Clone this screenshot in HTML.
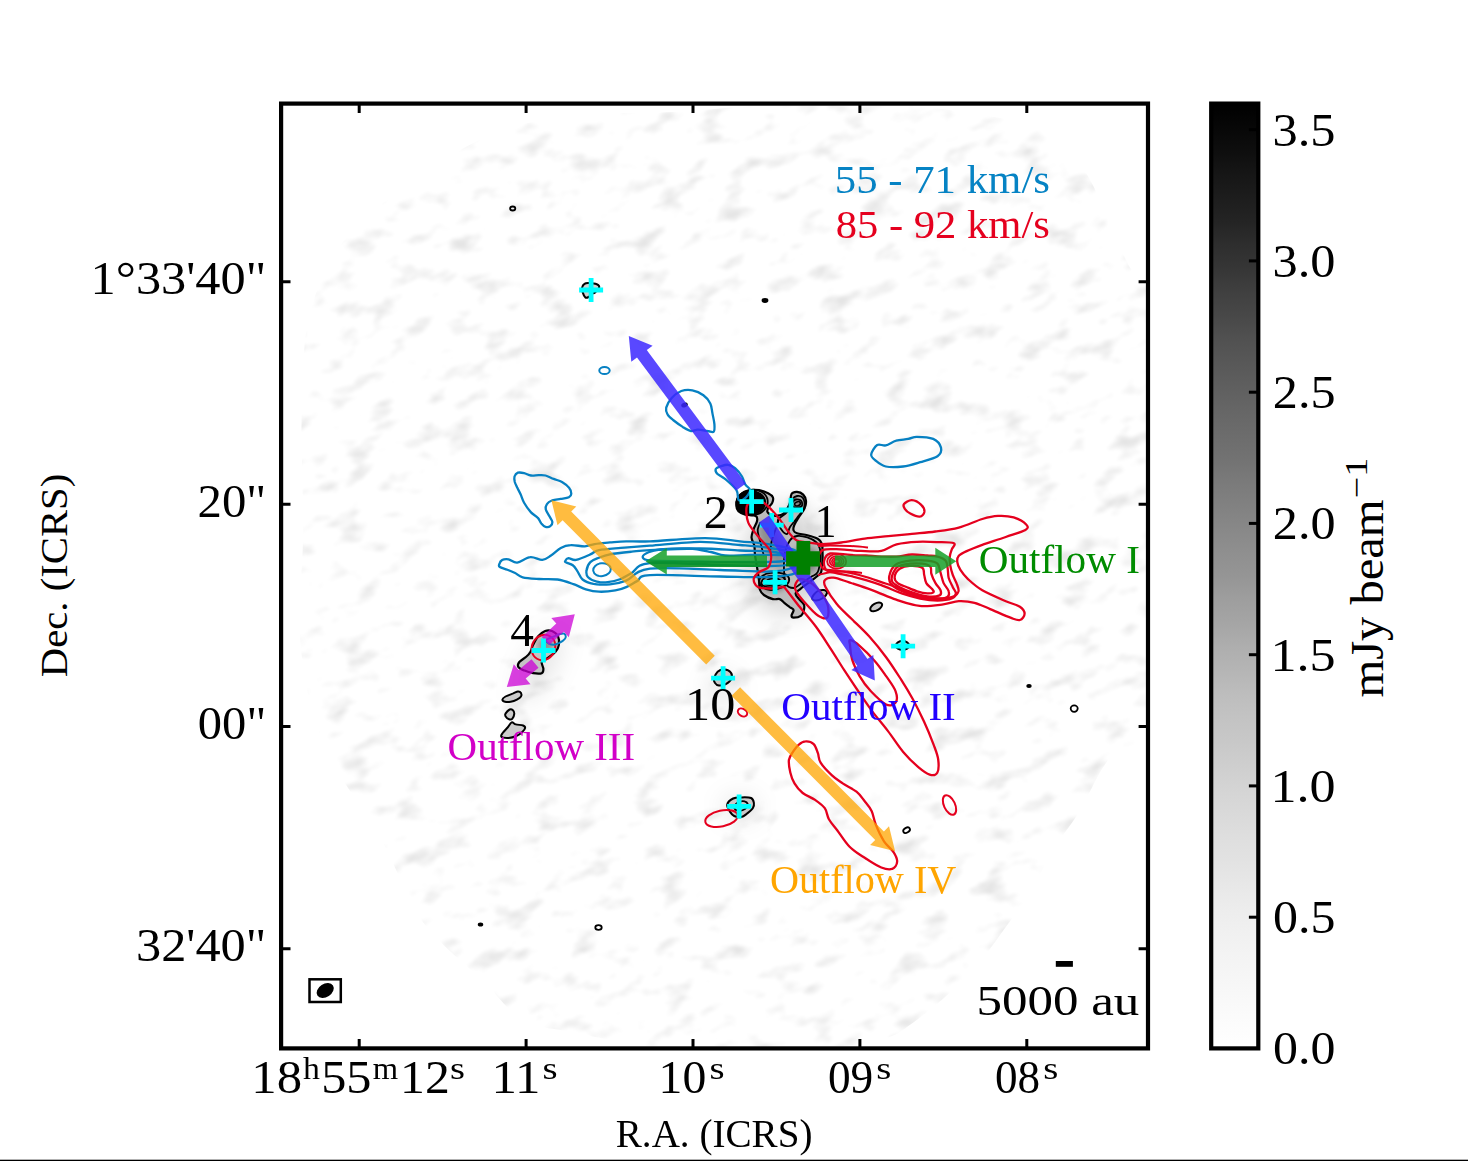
<!DOCTYPE html>
<html><head><meta charset="utf-8"><style>
html,body{margin:0;padding:0;background:#fff;}
svg{display:block;}
text{font-family:"Liberation Serif", serif;}
</style></head><body>
<svg width="1468" height="1161" viewBox="0 0 1468 1161">
<defs><linearGradient id="cb" x1="0" y1="0" x2="0" y2="1"><stop offset="0.000" stop-color="rgb(0,0,0)"/><stop offset="0.025" stop-color="rgb(7,7,7)"/><stop offset="0.050" stop-color="rgb(14,14,14)"/><stop offset="0.075" stop-color="rgb(22,22,22)"/><stop offset="0.100" stop-color="rgb(29,29,29)"/><stop offset="0.125" stop-color="rgb(36,36,36)"/><stop offset="0.150" stop-color="rgb(46,46,46)"/><stop offset="0.175" stop-color="rgb(54,54,54)"/><stop offset="0.200" stop-color="rgb(64,64,64)"/><stop offset="0.225" stop-color="rgb(72,72,72)"/><stop offset="0.250" stop-color="rgb(81,81,81)"/><stop offset="0.275" stop-color="rgb(88,88,88)"/><stop offset="0.300" stop-color="rgb(95,95,95)"/><stop offset="0.325" stop-color="rgb(102,102,102)"/><stop offset="0.350" stop-color="rgb(108,108,108)"/><stop offset="0.375" stop-color="rgb(114,114,114)"/><stop offset="0.400" stop-color="rgb(122,122,122)"/><stop offset="0.425" stop-color="rgb(129,129,129)"/><stop offset="0.450" stop-color="rgb(136,136,136)"/><stop offset="0.475" stop-color="rgb(143,143,143)"/><stop offset="0.500" stop-color="rgb(149,149,149)"/><stop offset="0.525" stop-color="rgb(158,158,158)"/><stop offset="0.550" stop-color="rgb(165,165,165)"/><stop offset="0.575" stop-color="rgb(174,174,174)"/><stop offset="0.600" stop-color="rgb(181,181,181)"/><stop offset="0.625" stop-color="rgb(189,189,189)"/><stop offset="0.650" stop-color="rgb(195,195,195)"/><stop offset="0.675" stop-color="rgb(200,200,200)"/><stop offset="0.700" stop-color="rgb(206,206,206)"/><stop offset="0.725" stop-color="rgb(212,212,212)"/><stop offset="0.750" stop-color="rgb(217,217,217)"/><stop offset="0.775" stop-color="rgb(222,222,222)"/><stop offset="0.800" stop-color="rgb(226,226,226)"/><stop offset="0.825" stop-color="rgb(231,231,231)"/><stop offset="0.850" stop-color="rgb(236,236,236)"/><stop offset="0.875" stop-color="rgb(240,240,240)"/><stop offset="0.900" stop-color="rgb(243,243,243)"/><stop offset="0.925" stop-color="rgb(246,246,246)"/><stop offset="0.950" stop-color="rgb(249,249,249)"/><stop offset="0.975" stop-color="rgb(252,252,252)"/><stop offset="1.000" stop-color="rgb(255,255,255)"/></linearGradient></defs>
<rect x="0" y="0" width="1468" height="1161" fill="#fff"/>
<rect x="0" y="1159.7" width="1468" height="1.3" fill="#000"/>
<defs><clipPath id="rg"><path d="M673.0,112.0 C711.3,110.0 753.8,104.3 800.0,104.0 C846.2,103.7 906.0,103.2 950.0,110.0 C994.0,116.8 1034.5,119.7 1064.0,145.0 C1093.5,170.3 1111.8,231.2 1127.0,262.0 C1142.2,292.8 1150.3,257.0 1155.0,330.0 C1159.7,403.0 1163.2,627.8 1155.0,700.0 C1146.8,772.2 1118.3,744.8 1106.0,763.0 C1093.7,781.2 1089.5,794.9 1081.0,809.0 C1072.5,823.1 1063.6,833.4 1055.0,847.5 C1046.4,861.6 1038.1,880.0 1029.6,893.7 C1021.1,907.4 1013.4,916.8 1004.0,929.6 C994.6,942.4 983.7,958.7 973.0,970.7 C962.3,982.7 949.8,993.0 940.0,1001.5 C930.2,1010.0 922.6,1016.0 914.0,1022.0 C905.4,1028.0 900.2,1033.4 888.5,1037.4 C876.8,1041.4 866.6,1043.9 844.0,1046.0 C821.4,1048.1 783.3,1049.7 753.0,1050.0 C722.7,1050.3 692.3,1051.0 662.0,1048.0 C631.7,1045.0 594.2,1036.7 571.0,1032.0 C547.8,1027.3 537.7,1028.5 523.0,1020.0 C508.3,1011.5 499.8,997.5 483.0,981.0 C466.2,964.5 438.8,944.3 422.0,921.0 C405.2,897.7 398.7,871.0 382.0,841.0 C365.3,811.0 335.7,774.5 322.0,741.0 C308.3,707.5 303.2,674.2 300.0,640.0 C296.8,605.8 302.7,576.2 303.0,536.0 C303.3,495.8 300.3,438.0 302.0,399.0 C303.7,360.0 303.3,331.3 313.0,302.0 C322.7,272.7 332.7,249.8 360.0,223.0 C387.3,196.2 442.0,158.8 477.0,141.0 C512.0,123.2 537.3,120.8 570.0,116.0 C602.7,111.2 634.7,114.0 673.0,112.0Z"/></clipPath><clipPath id="fr"><rect x="283" y="105.7" width="863" height="940.7"/></clipPath><filter id="nz" x="0" y="0" width="100%" height="100%" filterUnits="userSpaceOnUse"><feTurbulence type="fractalNoise" baseFrequency="0.03 0.058" numOctaves="3" seed="7" result="t"/><feColorMatrix type="matrix" values="0 0 0 0 0  0 0 0 0 0  0 0 0 0 0  3.3 0 0 0 -1.8"/><feGaussianBlur stdDeviation="1.8"/></filter><filter id="bl6"><feGaussianBlur stdDeviation="6"/></filter><filter id="bl12"><feGaussianBlur stdDeviation="12"/></filter><filter id="bl3"><feGaussianBlur stdDeviation="3"/></filter></defs>
<g clip-path="url(#fr)"><g clip-path="url(#rg)">
<g transform="rotate(-18 720 575)"><rect x="150" y="0" width="1200" height="1200" filter="url(#nz)" fill="#000" opacity="0.10"/></g>
<g filter="url(#bl12)" fill="#000"><ellipse cx="785" cy="560" rx="42" ry="55" opacity="0.16"/><ellipse cx="540" cy="665" rx="14" ry="40" transform="rotate(28 540 665)" opacity="0.10"/><ellipse cx="722" cy="690" rx="14" ry="18" opacity="0.10"/><ellipse cx="740" cy="808" rx="18" ry="12" opacity="0.10"/></g>
</g></g>
<path d="M736.4,505.7 C736.5,503.2 737.0,498.5 739.1,496.0 C741.2,493.5 745.5,491.5 748.8,490.5 C752.1,489.5 755.9,489.7 759.1,490.2 C762.3,490.7 765.8,492.1 768.1,493.3 C770.4,494.5 772.2,495.8 772.9,497.4 C773.6,499.0 772.9,501.3 772.2,502.9 C771.5,504.5 769.6,505.6 768.8,507.1 C768.0,508.6 766.8,510.5 767.4,511.9 C768.0,513.3 770.5,514.7 772.2,515.3 C773.9,515.9 775.9,515.9 777.7,515.7 C779.5,515.5 781.6,515.1 783.2,513.9 C784.8,512.7 786.2,510.3 787.4,508.4 C788.5,506.4 789.4,504.6 790.1,502.2 C790.8,499.8 790.4,495.7 791.5,494.0 C792.6,492.3 795.0,491.8 797.0,491.9 C799.0,492.0 801.7,493.1 803.2,494.6 C804.7,496.1 805.8,498.6 806.0,500.9 C806.2,503.2 805.8,505.8 804.6,508.4 C803.5,511.0 800.8,513.9 799.1,516.7 C797.4,519.5 795.2,522.7 794.3,525.0 C793.4,527.3 793.1,529.1 793.6,530.5 C794.1,531.9 794.7,532.4 797.0,533.2 C799.3,534.0 803.9,534.4 807.4,535.3 C810.9,536.2 815.3,537.4 817.7,538.8 C820.1,540.2 821.0,541.6 821.8,543.6 C822.6,545.6 822.4,547.8 822.5,550.5 C822.6,553.2 822.7,556.4 822.5,560.0 C822.3,563.6 821.9,569.6 821.1,572.2 C820.3,574.8 819.4,574.2 817.7,575.7 C816.0,577.2 813.7,579.0 810.8,581.2 C807.9,583.4 803.0,586.7 800.5,588.8 C798.0,590.9 795.8,591.9 795.6,593.6 C795.4,595.3 797.7,597.3 799.1,599.1 C800.5,600.9 803.1,602.8 803.9,604.6 C804.7,606.4 804.3,608.3 803.9,610.1 C803.5,611.9 802.9,614.3 801.2,615.6 C799.5,616.9 795.2,617.7 793.6,617.7 C792.0,617.7 791.5,616.9 791.5,615.6 C791.5,614.3 793.8,611.5 793.6,610.1 C793.4,608.7 791.6,608.5 790.1,607.4 C788.6,606.2 786.3,604.6 784.6,603.2 C782.9,601.8 781.8,599.8 779.8,599.1 C777.8,598.4 775.5,599.8 772.9,599.1 C770.2,598.4 766.1,596.6 763.9,595.0 C761.7,593.4 760.6,591.8 759.8,589.5 C759.0,587.2 759.5,584.5 759.1,581.2 C758.7,578.0 758.2,574.4 757.5,570.0 C756.8,565.6 755.5,559.1 755.0,555.0 C754.5,550.9 754.9,548.5 754.3,545.6 C753.7,542.7 751.6,540.1 751.5,537.4 C751.4,534.6 752.7,531.9 753.6,529.1 C754.5,526.3 756.8,523.0 757.1,520.8 C757.5,518.6 757.7,517.0 755.7,516.0 C753.7,515.0 748.2,515.4 745.3,514.6 C742.4,513.8 739.9,512.7 738.4,511.2 C736.9,509.7 736.3,508.2 736.4,505.7Z" fill="#bdbdbd" opacity="1.0" stroke="none"/>
<g filter="url(#bl3)" fill="#000"><ellipse cx="797" cy="504" rx="7" ry="6" opacity="0.35"/><ellipse cx="773" cy="583" rx="13" ry="8" opacity="0.4"/><ellipse cx="772" cy="545" rx="9" ry="25" transform="rotate(-25 772 545)" opacity="0.25"/><ellipse cx="805" cy="560" rx="14" ry="14" opacity="0.3"/></g>
<path d="M736.4,505.7 C736.5,503.2 737.0,498.5 739.1,496.0 C741.2,493.5 745.5,491.5 748.8,490.5 C752.1,489.5 755.9,489.7 759.1,490.2 C762.3,490.7 765.8,492.1 768.1,493.3 C770.4,494.5 772.2,495.8 772.9,497.4 C773.6,499.0 772.9,501.3 772.2,502.9 C771.5,504.5 769.6,505.6 768.8,507.1 C768.0,508.6 766.8,510.5 767.4,511.9 C768.0,513.3 770.5,514.7 772.2,515.3 C773.9,515.9 775.9,515.9 777.7,515.7 C779.5,515.5 781.6,515.1 783.2,513.9 C784.8,512.7 786.2,510.3 787.4,508.4 C788.5,506.4 789.4,504.6 790.1,502.2 C790.8,499.8 790.4,495.7 791.5,494.0 C792.6,492.3 795.0,491.8 797.0,491.9 C799.0,492.0 801.7,493.1 803.2,494.6 C804.7,496.1 805.8,498.6 806.0,500.9 C806.2,503.2 805.8,505.8 804.6,508.4 C803.5,511.0 800.8,513.9 799.1,516.7 C797.4,519.5 795.2,522.7 794.3,525.0 C793.4,527.3 793.1,529.1 793.6,530.5 C794.1,531.9 794.7,532.4 797.0,533.2 C799.3,534.0 803.9,534.4 807.4,535.3 C810.9,536.2 815.3,537.4 817.7,538.8 C820.1,540.2 821.0,541.6 821.8,543.6 C822.6,545.6 822.4,547.8 822.5,550.5 C822.6,553.2 822.7,556.4 822.5,560.0 C822.3,563.6 821.9,569.6 821.1,572.2 C820.3,574.8 819.4,574.2 817.7,575.7 C816.0,577.2 813.7,579.0 810.8,581.2 C807.9,583.4 803.0,586.7 800.5,588.8 C798.0,590.9 795.8,591.9 795.6,593.6 C795.4,595.3 797.7,597.3 799.1,599.1 C800.5,600.9 803.1,602.8 803.9,604.6 C804.7,606.4 804.3,608.3 803.9,610.1 C803.5,611.9 802.9,614.3 801.2,615.6 C799.5,616.9 795.2,617.7 793.6,617.7 C792.0,617.7 791.5,616.9 791.5,615.6 C791.5,614.3 793.8,611.5 793.6,610.1 C793.4,608.7 791.6,608.5 790.1,607.4 C788.6,606.2 786.3,604.6 784.6,603.2 C782.9,601.8 781.8,599.8 779.8,599.1 C777.8,598.4 775.5,599.8 772.9,599.1 C770.2,598.4 766.1,596.6 763.9,595.0 C761.7,593.4 760.6,591.8 759.8,589.5 C759.0,587.2 759.5,584.5 759.1,581.2 C758.7,578.0 758.2,574.4 757.5,570.0 C756.8,565.6 755.5,559.1 755.0,555.0 C754.5,550.9 754.9,548.5 754.3,545.6 C753.7,542.7 751.6,540.1 751.5,537.4 C751.4,534.6 752.7,531.9 753.6,529.1 C754.5,526.3 756.8,523.0 757.1,520.8 C757.5,518.6 757.7,517.0 755.7,516.0 C753.7,515.0 748.2,515.4 745.3,514.6 C742.4,513.8 739.9,512.7 738.4,511.2 C736.9,509.7 736.3,508.2 736.4,505.7Z" fill="none" stroke="#000" stroke-width="2.2" stroke-linejoin="round" />
<ellipse cx="750.9" cy="502.9" rx="14.3" ry="11.5" transform="rotate(-5 750.9 502.9)" fill="#000" stroke="#000" stroke-width="2.0"/>
<ellipse cx="752.0" cy="502.5" rx="15.8" ry="12.8" transform="rotate(-8 752.0 502.5)" fill="none" stroke="#000" stroke-width="1.8"/>
<path d="M792.2,502.9 C792.7,501.8 794.1,499.8 795.6,499.5 C797.1,499.2 800.2,499.9 801.2,500.9 C802.2,501.9 802.6,504.6 801.9,505.7 C801.2,506.8 798.5,507.6 797.0,507.7 C795.5,507.8 793.7,507.2 792.9,506.4 C792.1,505.6 791.8,504.0 792.2,502.9Z" fill="none" stroke="#000" stroke-width="1.8" stroke-linejoin="round" />
<ellipse cx="797.5" cy="503.8" rx="3.0" ry="2.0" transform="rotate(-20 797.5 503.8)" fill="none" stroke="#000" stroke-width="1.6"/>
<path d="M787.0,512.0 C789.3,508.7 790.3,502.7 792.0,500.0 C793.7,497.3 795.2,496.3 797.0,496.0 C798.8,495.7 801.8,496.0 803.0,498.0 C804.2,500.0 805.0,504.7 804.0,508.0 C803.0,511.3 799.3,514.8 797.0,518.0 C794.7,521.2 791.7,524.3 790.0,527.0 C788.3,529.7 788.5,533.7 787.0,534.0 C785.5,534.3 782.5,531.3 781.0,529.0 C779.5,526.7 777.0,522.8 778.0,520.0 C779.0,517.2 784.7,515.3 787.0,512.0Z" fill="none" stroke="#000" stroke-width="1.8" stroke-linejoin="round" />
<path d="M760.5,522.2 C760.0,523.5 757.9,527.3 757.7,529.8 C757.5,532.3 758.5,534.8 759.1,537.4 C759.7,540.0 760.4,542.5 761.2,545.6 C762.0,548.7 763.5,554.3 764.0,556.0" fill="none" stroke="#000" stroke-width="1.8" stroke-linejoin="round" />
<path d="M779.1,517.4 C778.6,519.2 777.2,524.2 776.0,528.0 C774.8,531.8 773.0,536.0 772.0,540.0 C771.0,544.0 770.3,550.0 770.0,552.0" fill="none" stroke="#000" stroke-width="1.8" stroke-linejoin="round" />
<path d="M790.1,540.1 C792.1,537.4 794.1,536.5 797.0,536.0 C799.9,535.5 804.2,536.4 807.4,537.4 C810.6,538.4 814.2,540.4 816.3,542.2 C818.4,544.0 819.1,545.8 819.8,548.4 C820.5,551.0 820.9,554.1 820.5,558.1 C820.1,562.1 819.3,569.1 817.7,572.2 C816.1,575.4 813.7,575.0 810.8,577.0 C807.9,579.0 803.4,582.2 800.5,584.0 C797.6,585.8 796.0,588.0 793.6,588.0 C791.2,588.0 787.6,587.0 786.0,584.0 C784.4,581.0 784.2,575.3 784.0,570.0 C783.8,564.7 784.0,557.0 785.0,552.0 C786.0,547.0 788.1,542.8 790.1,540.1Z" fill="none" stroke="#000" stroke-width="1.8" stroke-linejoin="round" />
<path d="M759.1,581.2 C759.1,579.2 760.7,577.1 762.6,575.7 C764.5,574.3 767.4,573.2 770.8,572.9 C774.2,572.5 780.2,572.8 783.2,573.6 C786.2,574.4 788.1,576.0 788.8,577.7 C789.5,579.4 788.9,582.2 787.4,583.9 C785.9,585.6 782.6,587.1 779.8,588.1 C777.0,589.1 773.7,590.2 770.8,590.1 C767.9,590.0 764.5,588.9 762.6,587.4 C760.7,585.9 759.1,583.2 759.1,581.2Z" fill="none" stroke="#000" stroke-width="1.8" stroke-linejoin="round" />
<path d="M761.2,582.6 C761.6,581.1 763.9,578.1 766.0,577.0 C768.1,575.9 770.8,575.7 773.6,575.7 C776.4,575.7 780.8,576.1 782.6,577.0 C784.4,577.9 785.2,579.8 784.6,581.2 C784.0,582.6 781.4,584.3 779.1,585.3 C776.8,586.3 773.3,587.3 770.8,587.4 C768.3,587.5 765.5,586.8 763.9,586.0 C762.3,585.2 760.9,584.1 761.2,582.6Z" fill="none" stroke="#000" stroke-width="1.6" stroke-linejoin="round" />
<path d="M764.6,583.3 C764.6,582.3 767.5,579.9 769.5,579.1 C771.5,578.3 774.4,578.0 776.4,578.4 C778.4,578.8 781.2,580.3 781.2,581.2 C781.2,582.1 778.4,583.2 776.4,583.9 C774.4,584.6 771.5,585.4 769.5,585.3 C767.5,585.2 764.6,584.3 764.6,583.3Z" fill="none" stroke="#000" stroke-width="1.6" stroke-linejoin="round" />
<path d="M812.0,598.0 C812.2,596.5 815.0,592.8 817.0,591.5 C819.0,590.2 822.3,589.8 824.0,590.0 C825.7,590.2 827.2,591.7 827.0,593.0 C826.8,594.3 824.8,596.8 823.0,598.0 C821.2,599.2 817.8,600.5 816.0,600.5 C814.2,600.5 811.8,599.5 812.0,598.0Z" fill="#bbbbbb" opacity="1.0" stroke="none"/>
<path d="M812.0,598.0 C812.2,596.5 815.0,592.8 817.0,591.5 C819.0,590.2 822.3,589.8 824.0,590.0 C825.7,590.2 827.2,591.7 827.0,593.0 C826.8,594.3 824.8,596.8 823.0,598.0 C821.2,599.2 817.8,600.5 816.0,600.5 C814.2,600.5 811.8,599.5 812.0,598.0Z" fill="none" stroke="#000" stroke-width="2" stroke-linejoin="round" />
<path d="M533.1,644.8 C534.4,642.2 536.2,638.5 538.2,636.2 C540.2,633.9 542.8,631.9 545.1,631.0 C547.4,630.1 549.9,630.1 552.0,631.0 C554.1,631.9 556.9,633.9 558.0,636.2 C559.1,638.5 559.3,642.2 558.9,644.8 C558.5,647.4 557.5,649.4 555.5,651.7 C553.5,654.0 549.1,656.9 546.8,658.6 C544.5,660.3 542.3,660.3 541.7,662.0 C541.1,663.7 543.4,667.0 543.4,668.9 C543.4,670.8 543.4,672.5 541.7,673.2 C540.0,673.9 536.0,673.6 533.1,673.2 C530.2,672.8 527.0,671.6 524.5,670.6 C522.0,669.6 519.3,668.6 518.4,667.2 C517.5,665.8 518.0,663.7 519.3,662.0 C520.6,660.3 524.3,658.5 526.2,656.8 C528.1,655.1 529.4,653.7 530.5,651.7 C531.6,649.7 531.8,647.4 533.1,644.8Z" fill="#c4c4c4" opacity="1.0" stroke="none"/>
<g filter="url(#bl3)" fill="#000"><ellipse cx="546" cy="645" rx="8" ry="6" opacity="0.3"/></g>
<path d="M533.1,644.8 C534.4,642.2 536.2,638.5 538.2,636.2 C540.2,633.9 542.8,631.9 545.1,631.0 C547.4,630.1 549.9,630.1 552.0,631.0 C554.1,631.9 556.9,633.9 558.0,636.2 C559.1,638.5 559.3,642.2 558.9,644.8 C558.5,647.4 557.5,649.4 555.5,651.7 C553.5,654.0 549.1,656.9 546.8,658.6 C544.5,660.3 542.3,660.3 541.7,662.0 C541.1,663.7 543.4,667.0 543.4,668.9 C543.4,670.8 543.4,672.5 541.7,673.2 C540.0,673.9 536.0,673.6 533.1,673.2 C530.2,672.8 527.0,671.6 524.5,670.6 C522.0,669.6 519.3,668.6 518.4,667.2 C517.5,665.8 518.0,663.7 519.3,662.0 C520.6,660.3 524.3,658.5 526.2,656.8 C528.1,655.1 529.4,653.7 530.5,651.7 C531.6,649.7 531.8,647.4 533.1,644.8Z" fill="none" stroke="#000" stroke-width="2.2" stroke-linejoin="round" />
<path d="M502.4,699.6 C502.5,698.7 503.7,697.5 505.5,696.5 C507.3,695.5 511.2,694.2 513.3,693.4 C515.4,692.5 516.6,691.5 517.9,691.4 C519.2,691.3 520.5,692.0 521.0,692.9 C521.5,693.8 521.7,695.4 521.0,696.5 C520.3,697.6 518.6,698.7 516.9,699.6 C515.2,700.5 512.7,701.4 510.7,701.7 C508.7,702.1 506.4,702.1 505.0,701.7 C503.6,701.4 502.3,700.5 502.4,699.6Z" fill="#cccccc" opacity="1.0" stroke="none"/>
<path d="M502.4,699.6 C502.5,698.7 503.7,697.5 505.5,696.5 C507.3,695.5 511.2,694.2 513.3,693.4 C515.4,692.5 516.6,691.5 517.9,691.4 C519.2,691.3 520.5,692.0 521.0,692.9 C521.5,693.8 521.7,695.4 521.0,696.5 C520.3,697.6 518.6,698.7 516.9,699.6 C515.2,700.5 512.7,701.4 510.7,701.7 C508.7,702.1 506.4,702.1 505.0,701.7 C503.6,701.4 502.3,700.5 502.4,699.6Z" fill="none" stroke="#000" stroke-width="2" stroke-linejoin="round" />
<path d="M505.5,713.6 C506.2,712.5 508.4,710.1 509.6,709.5 C510.8,708.9 511.9,709.3 512.7,710.0 C513.5,710.7 514.4,712.1 514.3,713.6 C514.2,715.1 513.1,717.8 512.2,718.8 C511.3,719.8 510.2,719.7 509.1,719.3 C508.0,718.9 506.1,717.2 505.5,716.2 C504.9,715.2 504.8,714.7 505.5,713.6Z" fill="#cccccc" opacity="1.0" stroke="none"/>
<path d="M505.5,713.6 C506.2,712.5 508.4,710.1 509.6,709.5 C510.8,708.9 511.9,709.3 512.7,710.0 C513.5,710.7 514.4,712.1 514.3,713.6 C514.2,715.1 513.1,717.8 512.2,718.8 C511.3,719.8 510.2,719.7 509.1,719.3 C508.0,718.9 506.1,717.2 505.5,716.2 C504.9,715.2 504.8,714.7 505.5,713.6Z" fill="none" stroke="#000" stroke-width="2" stroke-linejoin="round" />
<path d="M511.7,722.4 C513.1,721.9 513.9,723.9 515.8,724.4 C517.7,724.9 521.5,724.9 523.1,725.5 C524.7,726.1 525.3,727.0 525.1,728.1 C524.9,729.2 523.5,730.8 522.0,732.2 C520.5,733.6 518.0,735.3 515.8,736.3 C513.6,737.2 511.0,737.8 508.6,737.9 C506.2,738.0 502.3,737.7 501.4,736.8 C500.4,735.9 501.9,734.2 502.9,732.7 C503.9,731.2 506.1,729.2 507.6,727.5 C509.1,725.8 510.3,722.9 511.7,722.4Z" fill="#cccccc" opacity="1.0" stroke="none"/>
<path d="M511.7,722.4 C513.1,721.9 513.9,723.9 515.8,724.4 C517.7,724.9 521.5,724.9 523.1,725.5 C524.7,726.1 525.3,727.0 525.1,728.1 C524.9,729.2 523.5,730.8 522.0,732.2 C520.5,733.6 518.0,735.3 515.8,736.3 C513.6,737.2 511.0,737.8 508.6,737.9 C506.2,738.0 502.3,737.7 501.4,736.8 C500.4,735.9 501.9,734.2 502.9,732.7 C503.9,731.2 506.1,729.2 507.6,727.5 C509.1,725.8 510.3,722.9 511.7,722.4Z" fill="none" stroke="#000" stroke-width="2" stroke-linejoin="round" />
<path d="M714.1,678.6 C714.6,676.8 715.9,673.2 717.6,671.7 C719.3,670.2 722.3,669.5 724.5,669.6 C726.7,669.7 729.6,670.9 730.7,672.4 C731.9,673.9 732.2,676.6 731.4,678.6 C730.6,680.6 727.9,683.0 725.8,684.1 C723.7,685.2 720.7,685.7 718.9,685.5 C717.1,685.3 715.6,683.9 714.8,682.7 C714.0,681.6 713.6,680.4 714.1,678.6Z" fill="#c8c8c8" opacity="1.0" stroke="none"/>
<path d="M714.1,678.6 C714.6,676.8 715.9,673.2 717.6,671.7 C719.3,670.2 722.3,669.5 724.5,669.6 C726.7,669.7 729.6,670.9 730.7,672.4 C731.9,673.9 732.2,676.6 731.4,678.6 C730.6,680.6 727.9,683.0 725.8,684.1 C723.7,685.2 720.7,685.7 718.9,685.5 C717.1,685.3 715.6,683.9 714.8,682.7 C714.0,681.6 713.6,680.4 714.1,678.6Z" fill="none" stroke="#000" stroke-width="2" stroke-linejoin="round" />
<path d="M727.2,804.5 C727.7,802.3 730.8,799.7 733.1,798.5 C735.5,797.3 738.3,797.5 741.3,797.4 C744.3,797.3 749.0,797.1 751.1,798.0 C753.2,798.9 753.6,801.2 753.9,802.9 C754.2,804.6 754.0,806.5 752.8,808.3 C751.6,810.1 748.7,812.3 746.8,813.8 C744.9,815.3 743.4,816.7 741.3,817.1 C739.2,817.5 736.1,816.9 734.2,816.0 C732.3,815.1 731.1,813.5 729.9,811.6 C728.7,809.7 726.7,806.7 727.2,804.5Z" fill="#c8c8c8" opacity="1.0" stroke="none"/>
<path d="M727.2,804.5 C727.7,802.3 730.8,799.7 733.1,798.5 C735.5,797.3 738.3,797.5 741.3,797.4 C744.3,797.3 749.0,797.1 751.1,798.0 C753.2,798.9 753.6,801.2 753.9,802.9 C754.2,804.6 754.0,806.5 752.8,808.3 C751.6,810.1 748.7,812.3 746.8,813.8 C744.9,815.3 743.4,816.7 741.3,817.1 C739.2,817.5 736.1,816.9 734.2,816.0 C732.3,815.1 731.1,813.5 729.9,811.6 C728.7,809.7 726.7,806.7 727.2,804.5Z" fill="none" stroke="#000" stroke-width="2" stroke-linejoin="round" />
<ellipse cx="741.0" cy="806.0" rx="7.0" ry="4.5" transform="rotate(-20 741.0 806.0)" fill="none" stroke="#000" stroke-width="1.8"/>
<path d="M582.1,287.6 C582.4,286.1 583.4,284.6 584.5,283.9 C585.6,283.1 586.6,283.0 588.6,283.1 C590.6,283.2 595.0,283.6 596.8,284.3 C598.6,285.0 599.5,285.8 599.2,287.2 C598.9,288.6 596.3,291.4 595.1,292.5 C593.9,293.6 593.0,292.9 591.9,293.7 C590.8,294.4 589.7,296.4 588.6,297.0 C587.5,297.6 586.2,298.1 585.3,297.4 C584.3,296.7 583.4,294.5 582.9,292.9 C582.4,291.3 581.8,289.1 582.1,287.6Z" fill="#d0d0d0" opacity="1.0" stroke="none"/>
<path d="M582.1,287.6 C582.4,286.1 583.4,284.6 584.5,283.9 C585.6,283.1 586.6,283.0 588.6,283.1 C590.6,283.2 595.0,283.6 596.8,284.3 C598.6,285.0 599.5,285.8 599.2,287.2 C598.9,288.6 596.3,291.4 595.1,292.5 C593.9,293.6 593.0,292.9 591.9,293.7 C590.8,294.4 589.7,296.4 588.6,297.0 C587.5,297.6 586.2,298.1 585.3,297.4 C584.3,296.7 583.4,294.5 582.9,292.9 C582.4,291.3 581.8,289.1 582.1,287.6Z" fill="none" stroke="#000" stroke-width="2" stroke-linejoin="round" />
<ellipse cx="902.5" cy="645.5" rx="6.5" ry="4.5" transform="rotate(0 902.5 645.5)" fill="#d0d0d0" stroke="#000" stroke-width="2"/>
<ellipse cx="876.2" cy="606.9" rx="6.5" ry="3.5" transform="rotate(-30 876.2 606.9)" fill="#cccccc" stroke="#000" stroke-width="2"/>
<ellipse cx="512.7" cy="208.5" rx="2.6" ry="2.0" transform="rotate(0 512.7 208.5)" fill="none" stroke="#000" stroke-width="1.8"/>
<ellipse cx="765.0" cy="300.5" rx="2.5" ry="1.5" transform="rotate(0 765.0 300.5)" fill="#000" stroke="#000" stroke-width="1.8"/>
<ellipse cx="1029.0" cy="686.0" rx="2.0" ry="1.2" transform="rotate(0 1029.0 686.0)" fill="#000" stroke="#000" stroke-width="1.5"/>
<ellipse cx="1074.2" cy="708.6" rx="3.5" ry="3.2" transform="rotate(0 1074.2 708.6)" fill="none" stroke="#000" stroke-width="1.8"/>
<ellipse cx="906.6" cy="830.2" rx="3.6" ry="2.4" transform="rotate(-30 906.6 830.2)" fill="none" stroke="#000" stroke-width="1.8"/>
<ellipse cx="480.5" cy="924.5" rx="2.0" ry="1.3" transform="rotate(0 480.5 924.5)" fill="#000" stroke="#000" stroke-width="1.5"/>
<ellipse cx="598.5" cy="927.5" rx="3.2" ry="2.4" transform="rotate(0 598.5 927.5)" fill="none" stroke="#000" stroke-width="1.8"/>
<path d="M514.5,476.5 C515.0,475.0 516.3,473.3 517.9,472.7 C519.5,472.2 521.9,472.6 524.1,473.1 C526.3,473.6 528.6,475.2 531.0,475.5 C533.4,475.8 536.2,475.2 538.6,475.2 C541.0,475.2 543.0,474.9 545.5,475.5 C548.0,476.1 551.0,477.9 553.7,478.9 C556.5,480.0 559.5,480.6 562.0,482.0 C564.5,483.5 567.4,485.6 568.9,487.6 C570.5,489.5 571.3,492.2 571.3,493.8 C571.3,495.4 570.7,496.3 568.9,497.2 C567.1,498.1 563.4,498.4 560.6,498.9 C557.9,499.4 554.7,499.4 552.4,500.3 C550.1,501.2 547.9,502.5 546.9,504.1 C545.8,505.7 545.4,507.5 545.8,509.6 C546.3,511.7 548.5,514.4 549.6,516.5 C550.7,518.6 552.3,520.4 552.4,522.0 C552.5,523.6 551.4,525.3 550.3,526.1 C549.2,527.0 547.0,527.3 545.5,526.8 C544.0,526.4 542.6,524.9 541.3,523.4 C540.1,521.9 539.6,519.7 537.9,517.9 C536.2,516.0 533.3,514.9 531.0,512.4 C528.7,509.8 525.8,505.7 524.1,502.7 C522.4,499.7 521.8,497.0 520.7,494.5 C519.5,491.9 518.2,489.6 517.2,487.6 C516.3,485.5 515.3,483.9 514.8,482.0 C514.4,480.2 514.0,478.1 514.5,476.5Z" fill="none" stroke="#0680c2" stroke-width="2.3" stroke-linejoin="round" />
<path d="M666.2,407.6 C666.9,404.8 669.2,400.7 671.7,397.9 C674.2,395.2 677.9,392.3 681.3,391.0 C684.8,389.8 688.7,389.6 692.4,390.3 C696.0,391.0 700.4,393.0 703.4,395.2 C706.4,397.3 708.8,400.4 710.3,403.4 C711.8,406.4 711.7,409.6 712.4,413.1 C713.0,416.5 714.2,421.0 714.4,424.1 C714.6,427.2 714.9,430.5 713.7,431.7 C712.6,432.8 710.2,431.3 707.5,431.0 C704.9,430.6 700.6,429.6 697.9,429.6 C695.1,429.6 693.5,431.4 691.0,431.0 C688.5,430.5 685.7,428.7 682.7,426.9 C679.7,425.0 675.6,422.0 673.1,420.0 C670.5,417.9 668.7,416.5 667.6,414.5 C666.4,412.4 665.5,410.3 666.2,407.6Z" fill="none" stroke="#0680c2" stroke-width="2.3" stroke-linejoin="round" />
<path d="M715.8,468.9 C716.3,467.7 717.9,467.2 719.9,466.5 C722.0,465.9 725.7,464.5 728.2,464.8 C730.7,465.0 732.8,466.2 735.1,468.2 C737.4,470.2 740.3,473.7 742.0,476.5 C743.7,479.2 744.0,482.4 745.4,484.7 C746.8,487.0 750.4,488.0 750.2,490.2 C750.1,492.5 746.7,496.9 744.7,498.5 C742.8,500.1 739.9,501.3 738.5,499.9 C737.2,498.5 738.7,493.7 736.5,490.2 C734.3,486.8 728.7,482.0 725.4,479.2 C722.2,476.5 718.8,475.4 717.2,473.7 C715.6,472.0 715.3,470.1 715.8,468.9Z" fill="none" stroke="#0680c2" stroke-width="2.3" stroke-linejoin="round" />
<ellipse cx="604.5" cy="370.5" rx="5.2" ry="3.6" transform="rotate(0 604.5 370.5)" fill="none" stroke="#0680c2" stroke-width="2.0"/>
<path d="M871.2,454.5 C871.5,451.9 874.8,446.5 877.2,445.0 C879.7,443.5 882.7,446.1 885.8,445.4 C889.0,444.7 892.4,441.7 896.2,440.7 C899.9,439.6 904.8,439.6 908.2,438.9 C911.7,438.3 912.7,436.8 916.8,436.8 C921.0,436.8 929.2,437.2 933.2,438.9 C937.2,440.7 940.2,444.7 941.0,447.6 C941.7,450.4 941.0,453.7 937.5,456.2 C934.1,458.6 926.0,460.5 920.3,462.2 C914.6,463.9 908.8,465.8 903.1,466.5 C897.3,467.2 890.4,467.5 885.8,466.5 C881.2,465.5 877.9,462.5 875.5,460.5 C873.1,458.5 870.9,457.0 871.2,454.5Z" fill="none" stroke="#0680c2" stroke-width="2.3" stroke-linejoin="round" />
<path d="M499.3,564.2 C499.6,563.1 500.4,560.9 502.0,560.1 C503.5,559.3 506.0,558.9 508.5,559.3 C511.1,559.8 513.6,563.0 517.2,562.6 C520.9,562.2 526.1,557.6 530.3,557.2 C534.5,556.7 538.9,560.1 542.3,559.9 C545.8,559.6 547.9,557.5 551.0,555.5 C554.1,553.5 557.6,549.6 560.8,547.9 C564.1,546.2 566.7,545.4 570.7,545.2 C574.7,544.9 580.8,546.4 584.8,546.3 C588.8,546.1 590.5,544.7 594.6,544.1 C598.8,543.4 604.6,542.9 609.9,542.4 C615.2,542.0 619.6,541.5 626.2,541.3 C632.9,541.2 636.9,541.9 650.0,541.3 C663.1,540.8 690.0,538.1 705.0,538.1 C720.0,538.1 729.2,540.2 740.0,541.3 C750.8,542.4 760.7,542.9 770.0,544.5 C779.3,546.1 790.8,548.1 796.0,551.0 C801.2,553.9 801.0,558.3 801.0,562.0 C801.0,565.7 801.2,570.5 796.0,573.0 C790.8,575.5 782.7,576.4 770.0,577.0 C757.3,577.6 740.0,576.8 720.0,576.5 C700.0,576.2 663.8,574.4 650.0,575.1 C636.2,575.9 641.1,579.1 637.1,581.1 C633.2,583.1 629.9,585.6 626.2,587.1 C622.6,588.7 619.9,589.6 615.3,590.4 C610.8,591.2 603.9,591.9 599.0,591.7 C594.1,591.5 590.3,590.6 585.9,589.3 C581.6,588.0 577.6,585.5 572.8,583.9 C568.1,582.2 563.2,580.3 557.6,579.5 C551.9,578.7 544.9,579.3 539.0,579.0 C533.2,578.6 526.7,578.3 522.7,577.3 C518.7,576.3 517.6,574.2 515.1,573.0 C512.5,571.7 510.0,570.7 507.4,569.7 C504.9,568.7 501.2,567.9 499.8,567.0 C498.4,566.1 498.9,565.4 499.3,564.2Z" fill="none" stroke="#0680c2" stroke-width="2.3" stroke-linejoin="round" />
<path d="M565.2,561.0 C565.6,560.2 566.7,558.4 568.5,558.2 C570.3,558.1 572.5,560.5 576.1,559.9 C579.7,559.2 586.5,556.1 590.3,554.4 C594.1,552.8 593.9,551.2 599.0,550.1 C604.1,549.0 612.3,548.6 620.8,547.9 C629.3,547.2 636.8,546.7 650.0,545.7 C663.2,544.7 685.0,541.9 700.0,541.8 C715.0,541.7 728.3,544.0 740.0,545.0 C751.7,546.0 761.3,546.7 770.0,548.0 C778.7,549.3 787.7,550.7 792.0,553.0 C796.3,555.3 796.0,559.5 796.0,562.0 C796.0,564.5 796.3,566.4 792.0,568.0 C787.7,569.6 782.0,571.2 770.0,571.5 C758.0,571.8 740.0,570.5 720.0,570.0 C700.0,569.5 665.6,566.8 650.0,568.6 C634.4,570.4 632.9,578.0 626.2,580.6 C619.6,583.2 615.3,583.9 609.9,584.4 C604.4,584.9 598.1,584.7 593.5,583.9 C589.0,583.0 585.4,581.7 582.6,579.5 C579.9,577.3 578.8,573.1 577.2,570.8 C575.6,568.4 574.7,566.7 572.8,565.3 C571.0,564.0 567.6,563.3 566.3,562.6 C565.0,561.9 564.8,561.7 565.2,561.0Z" fill="none" stroke="#0680c2" stroke-width="2.3" stroke-linejoin="round" />
<path d="M586.5,570.8 C586.8,568.2 588.2,564.2 590.3,562.1 C592.4,559.9 595.7,559.0 599.0,557.7 C602.3,556.4 604.4,555.4 609.9,554.4 C615.3,553.4 625.0,552.4 631.7,551.7 C638.4,551.0 638.6,550.6 650.0,550.1 C661.4,549.5 685.0,548.4 700.0,548.5 C715.0,548.6 728.3,550.0 740.0,550.5 C751.7,551.0 762.0,550.6 770.0,551.5 C778.0,552.4 784.7,554.2 788.0,556.0 C791.3,557.8 790.3,560.5 790.0,562.0 C789.7,563.5 789.3,564.3 786.0,565.0 C782.7,565.7 781.0,566.0 770.0,566.0 C759.0,566.0 740.0,565.5 720.0,565.0 C700.0,564.5 664.7,561.8 650.0,563.1 C635.3,564.5 636.6,570.3 631.7,573.0 C626.8,575.6 624.8,577.4 620.8,579.0 C616.8,580.5 611.7,581.8 607.7,582.2 C603.7,582.7 600.1,582.5 596.8,581.7 C593.5,580.9 589.8,579.1 588.1,577.3 C586.4,575.5 586.1,573.3 586.5,570.8Z" fill="none" stroke="#0680c2" stroke-width="2.3" stroke-linejoin="round" />
<ellipse cx="602.0" cy="569.7" rx="8.8" ry="6.4" transform="rotate(-8 602.0 569.7)" fill="none" stroke="#0680c2" stroke-width="2.0"/>
<path d="M642.7,556.6 C642.9,555.4 645.1,553.7 648.0,552.5 C650.9,551.3 653.2,550.2 660.0,549.5 C666.8,548.8 680.5,548.1 689.0,548.5 C697.5,548.9 705.0,550.8 711.0,552.0 C717.0,553.2 718.5,555.0 725.0,555.5 C731.5,556.0 740.8,555.1 750.0,555.0 C759.2,554.9 772.8,554.5 780.0,555.0 C787.2,555.5 793.0,556.9 793.0,558.0 C793.0,559.1 788.8,560.8 780.0,561.5 C771.2,562.2 753.3,562.0 740.0,562.0 C726.7,562.0 713.3,561.7 700.0,561.5 C686.7,561.3 668.8,561.2 660.0,561.0 C651.2,560.8 649.9,560.7 647.0,560.0 C644.1,559.3 642.5,557.9 642.7,556.6Z" fill="none" stroke="#0680c2" stroke-width="2.3" stroke-linejoin="round" />
<path d="M822.5,544.1 C828.4,544.1 834.3,543.4 841.3,542.5 C848.4,541.6 857.0,539.6 864.8,538.6 C872.7,537.5 880.5,537.0 888.3,536.2 C896.2,535.4 904.0,534.7 911.8,533.9 C919.7,533.1 927.5,532.6 935.3,531.5 C943.2,530.5 951.0,529.7 958.8,527.6 C966.7,525.5 975.8,520.9 982.3,519.0 C988.9,517.0 992.8,516.1 998.0,515.9 C1003.2,515.6 1009.0,516.0 1013.7,517.4 C1018.4,518.9 1024.3,522.4 1026.2,524.5 C1028.2,526.6 1028.8,527.9 1025.4,530.0 C1022.0,532.0 1013.0,534.5 1005.8,537.0 C998.7,539.5 988.9,542.5 982.3,544.8 C975.8,547.2 970.6,549.3 966.7,551.1 C962.8,552.9 960.4,554.0 958.8,555.8 C957.3,557.6 957.0,559.7 957.3,562.1 C957.5,564.4 958.6,567.0 960.4,569.9 C962.2,572.8 964.6,575.9 968.2,579.3 C971.9,582.7 976.1,586.6 982.3,590.3 C988.6,593.9 999.6,598.5 1005.8,601.2 C1012.1,604.0 1016.8,604.6 1019.9,606.7 C1023.1,608.8 1024.6,611.6 1024.6,613.8 C1024.6,616.0 1022.3,619.4 1019.9,620.0 C1017.6,620.7 1015.5,619.5 1010.5,617.7 C1005.6,615.9 996.2,611.6 990.2,609.1 C984.2,606.6 979.7,604.1 974.5,602.8 C969.3,601.5 964.1,601.0 958.8,601.2 C953.6,601.5 949.7,603.6 943.2,604.4 C936.6,605.2 927.5,606.7 919.7,605.9 C911.8,605.2 904.0,602.3 896.2,599.7 C888.3,597.1 880.5,593.1 872.7,590.3 C864.8,587.4 855.7,584.5 849.2,582.4 C842.6,580.3 837.5,578.1 833.5,577.7 C829.5,577.3 826.2,578.5 824.9,580.1 C823.5,581.6 823.5,583.0 825.5,587.1 C827.5,591.1 832.4,598.7 836.8,604.1 C841.3,609.5 846.6,613.9 852.0,619.3 C857.4,624.6 863.4,630.0 869.1,636.3 C874.7,642.6 880.7,649.9 886.1,657.2 C891.5,664.4 896.8,672.9 901.3,679.9 C905.7,686.8 908.8,691.9 912.6,698.8 C916.4,705.8 920.5,714.0 924.0,721.6 C927.5,729.2 931.1,738.0 933.5,744.3 C935.8,750.6 937.6,754.7 938.2,759.5 C938.8,764.2 938.7,770.2 937.3,772.7 C935.8,775.3 932.8,775.6 929.7,774.6 C926.5,773.7 922.7,770.8 918.3,767.1 C913.9,763.3 908.2,757.9 903.2,751.9 C898.1,745.9 893.1,737.7 888.0,731.1 C882.9,724.4 877.6,718.4 872.8,712.1 C868.1,705.8 864.3,700.1 859.6,693.2 C854.8,686.2 849.2,677.7 844.4,670.4 C839.7,663.2 835.9,656.8 831.2,649.6 C826.4,642.3 821.4,634.1 816.0,626.8 C810.6,619.6 804.0,612.3 798.9,606.0 C793.9,599.7 788.4,592.1 785.7,588.9 C783.0,585.8 785.0,587.2 782.7,587.1 C780.4,587.1 775.8,588.5 771.7,588.5 C767.5,588.5 760.9,588.7 757.9,587.1 C754.9,585.5 753.5,581.4 753.7,578.9 C754.0,576.3 756.7,574.0 759.3,572.0 C761.8,569.9 767.1,569.9 768.9,566.5 C770.7,563.0 772.1,556.4 770.3,551.3 C768.4,546.3 761.6,541.0 757.9,536.1 C754.2,531.3 750.1,527.4 748.2,522.4 C746.4,517.3 745.7,509.5 746.9,505.8 C748.0,502.2 752.4,500.9 755.1,500.3 C757.9,499.7 760.6,500.8 763.4,502.4 C766.1,504.0 768.9,507.1 771.7,510.0 C774.4,512.8 776.9,515.7 779.9,519.6 C782.9,523.5 786.8,529.9 789.6,533.4 C792.3,536.8 793.7,538.8 796.5,540.3 C799.2,541.8 801.8,541.7 806.1,542.4 C810.5,543.0 816.7,544.0 822.5,544.1Z" fill="none" stroke="#e5001e" stroke-width="2.3" stroke-linejoin="round" />
<path d="M850.1,640.1 C851.7,640.1 855.5,642.3 859.6,645.8 C863.7,649.3 870.3,655.9 874.7,660.9 C879.2,666.0 882.6,671.1 886.1,676.1 C889.6,681.2 894.0,686.8 895.6,691.3 C897.2,695.7 897.2,700.4 895.6,702.6 C894.0,704.8 890.2,706.4 886.1,704.5 C882.0,702.6 875.4,696.0 870.9,691.3 C866.5,686.5 862.7,681.5 859.6,676.1 C856.4,670.7 853.6,664.1 852.0,659.1 C850.4,654.0 850.4,648.9 850.1,645.8 C849.8,642.6 848.5,640.1 850.1,640.1Z" fill="none" stroke="#e5001e" stroke-width="2.3" stroke-linejoin="round" />
<path d="M808.4,581.4 C811.6,582.9 814.7,585.2 817.9,588.9 C821.1,592.7 825.8,599.4 827.4,604.1 C828.9,608.8 828.9,615.5 827.4,617.4 C825.8,619.3 821.7,618.0 817.9,615.5 C814.1,612.9 808.4,606.6 804.6,602.2 C800.8,597.8 796.1,592.7 795.2,588.9 C794.2,585.2 796.7,580.7 798.9,579.5 C801.2,578.2 805.3,579.8 808.4,581.4Z" fill="none" stroke="#e5001e" stroke-width="2.3" stroke-linejoin="round" />
<path d="M840.4,549.4 C846.7,549.6 854.1,550.7 860.9,550.9 C867.7,551.2 875.3,552.1 881.3,550.9 C887.3,549.8 890.7,545.8 896.6,544.3 C902.6,542.8 910.3,542.1 917.1,541.8 C923.9,541.4 931.4,541.8 937.5,542.1 C943.6,542.3 951.5,542.1 953.9,543.3 C956.2,544.5 952.5,547.2 951.8,549.4 C951.1,551.6 950.0,553.8 949.8,556.6 C949.5,559.3 949.8,562.7 950.3,565.8 C950.8,568.8 951.7,571.9 952.8,575.0 C953.9,578.0 956.0,581.4 956.9,584.2 C957.9,586.9 959.0,589.3 958.5,591.3 C957.9,593.4 956.5,595.2 953.9,596.4 C951.2,597.6 947.0,598.3 942.6,598.5 C938.2,598.6 932.4,598.3 927.3,597.4 C922.2,596.6 917.1,595.1 912.0,593.4 C906.9,591.6 901.7,589.1 896.6,587.2 C891.5,585.3 886.4,583.8 881.3,582.1 C876.2,580.4 871.1,578.5 866.0,577.0 C860.9,575.5 855.8,574.0 850.7,572.9 C845.5,571.8 839.8,571.0 835.3,570.4 C830.9,569.8 826.6,570.4 824.1,569.3 C821.5,568.2 821.0,565.5 820.0,563.7 C819.0,561.9 817.4,560.9 818.0,558.6 C818.5,556.3 819.3,551.5 823.1,549.9 C826.8,548.4 834.1,549.2 840.4,549.4Z" fill="none" stroke="#e5001e" stroke-width="2.3" stroke-linejoin="round" />
<path d="M830.2,553.5 C834.6,552.6 844.7,554.7 850.7,555.0 C856.6,555.4 860.9,555.3 866.0,555.5 C871.1,555.8 876.2,556.4 881.3,556.6 C886.4,556.7 891.5,556.9 896.6,556.6 C901.7,556.2 906.9,554.7 912.0,554.5 C917.1,554.4 923.0,555.2 927.3,555.5 C931.5,555.9 934.4,555.7 937.5,556.6 C940.6,557.4 944.0,558.6 945.7,560.7 C947.4,562.7 947.2,565.9 947.7,568.8 C948.2,571.7 947.9,575.0 948.7,578.0 C949.6,581.1 951.6,584.7 952.8,587.2 C954.0,589.8 956.1,591.5 955.9,593.4 C955.7,595.2 954.9,597.3 951.8,598.5 C948.7,599.7 942.8,600.5 937.5,600.5 C932.2,600.5 926.1,599.7 920.1,598.5 C914.2,597.3 908.2,595.6 901.7,593.4 C895.3,591.1 887.3,587.4 881.3,585.2 C875.3,583.0 871.1,581.6 866.0,580.1 C860.9,578.5 855.8,577.2 850.7,576.0 C845.5,574.8 839.4,573.9 835.3,572.9 C831.2,571.9 828.0,571.9 826.1,569.9 C824.3,567.8 823.4,563.4 824.1,560.7 C824.8,557.9 825.8,554.4 830.2,553.5Z" fill="none" stroke="#e5001e" stroke-width="2.3" stroke-linejoin="round" />
<path d="M889.5,575.0 C890.3,571.9 892.2,567.1 895.6,564.7 C899.0,562.4 904.6,561.3 909.9,560.7 C915.2,560.0 922.7,560.1 927.3,560.7 C931.9,561.2 935.3,561.7 937.5,563.7 C939.7,565.8 939.6,569.7 940.6,572.9 C941.6,576.2 942.3,580.1 943.6,583.1 C945.0,586.2 948.2,588.9 948.7,591.3 C949.3,593.7 949.4,596.2 946.7,597.4 C944.0,598.7 937.8,599.3 932.4,599.0 C926.9,598.6 919.8,597.0 914.0,595.4 C908.2,593.8 901.6,591.3 897.7,589.3 C893.7,587.2 891.9,585.5 890.5,583.1 C889.1,580.7 888.6,578.0 889.5,575.0Z" fill="none" stroke="#e5001e" stroke-width="2.3" stroke-linejoin="round" />
<path d="M892.0,576.0 C892.9,573.4 894.7,568.8 897.7,566.8 C900.6,564.7 905.8,564.2 909.9,563.7 C914.0,563.2 918.8,563.2 922.2,563.7 C925.6,564.2 928.8,565.1 930.4,566.8 C931.9,568.5 930.5,571.2 931.4,573.9 C932.2,576.7 933.9,580.4 935.5,583.1 C937.0,585.9 939.9,588.2 940.6,590.3 C941.3,592.3 941.8,594.4 939.6,595.4 C937.3,596.4 931.9,596.9 927.3,596.4 C922.7,595.9 916.6,593.9 912.0,592.3 C907.4,590.8 902.9,588.9 899.7,587.2 C896.5,585.5 893.8,584.0 892.5,582.1 C891.3,580.2 891.2,578.5 892.0,576.0Z" fill="none" stroke="#e5001e" stroke-width="2.3" stroke-linejoin="round" />
<path d="M894.6,577.0 C894.9,574.6 897.1,570.7 899.7,568.8 C902.3,567.0 906.2,565.9 909.9,565.8 C913.7,565.6 919.8,566.3 922.2,567.8 C924.6,569.3 923.5,572.4 924.2,575.0 C924.9,577.5 924.9,580.7 926.3,583.1 C927.6,585.5 931.2,587.7 932.4,589.3 C933.6,590.8 934.3,591.6 933.4,592.3 C932.6,593.0 930.0,593.5 927.3,593.4 C924.6,593.2 920.5,592.3 917.1,591.3 C913.7,590.3 910.1,588.6 906.9,587.2 C903.6,585.9 899.7,584.8 897.7,583.1 C895.6,581.4 894.3,579.4 894.6,577.0Z" fill="none" stroke="#e5001e" stroke-width="2.3" stroke-linejoin="round" />
<ellipse cx="836.7" cy="561.4" rx="9.5" ry="7.2" transform="rotate(0 836.7 561.4)" fill="none" stroke="#e5001e" stroke-width="1.8"/>
<ellipse cx="836.7" cy="561.4" rx="7.0" ry="5.2" transform="rotate(0 836.7 561.4)" fill="none" stroke="#e5001e" stroke-width="1.8"/>
<ellipse cx="836.7" cy="561.4" rx="4.8" ry="3.6" transform="rotate(0 836.7 561.4)" fill="none" stroke="#e5001e" stroke-width="1.8"/>
<ellipse cx="836.7" cy="561.4" rx="2.8" ry="2.0" transform="rotate(0 836.7 561.4)" fill="none" stroke="#e5001e" stroke-width="1.8"/>
<path d="M818.0,546.0 C820.0,545.9 824.7,545.5 830.0,545.5 C835.3,545.5 843.7,545.7 850.0,546.0 C856.3,546.3 865.0,547.2 868.0,547.5" fill="none" stroke="#e5001e" stroke-width="2.0" stroke-linejoin="round" />
<path d="M818.0,575.0 C820.3,574.5 827.0,572.6 832.0,572.0 C837.0,571.4 843.0,571.3 848.0,571.5 C853.0,571.7 859.7,572.8 862.0,573.0" fill="none" stroke="#e5001e" stroke-width="2.0" stroke-linejoin="round" />
<path d="M904.0,504.1 C905.2,502.7 909.0,500.1 911.8,500.2 C914.7,500.3 919.2,502.9 921.2,504.9 C923.3,506.8 924.6,510.0 924.4,511.9 C924.1,513.9 922.0,516.4 919.7,516.6 C917.3,516.9 912.8,514.8 910.3,513.5 C907.8,512.2 905.8,510.4 904.8,508.8 C903.7,507.2 902.8,505.5 904.0,504.1Z" fill="none" stroke="#e5001e" stroke-width="2.3" stroke-linejoin="round" />
<ellipse cx="949.5" cy="805.0" rx="5.5" ry="10.5" transform="rotate(-25 949.5 805.0)" fill="none" stroke="#e5001e" stroke-width="2.0"/>
<ellipse cx="742.5" cy="712.5" rx="5.0" ry="3.5" transform="rotate(30 742.5 712.5)" fill="none" stroke="#e5001e" stroke-width="2.0"/>
<ellipse cx="721.5" cy="818.5" rx="16.5" ry="8.0" transform="rotate(-12 721.5 818.5)" fill="none" stroke="#e5001e" stroke-width="2.0"/>
<ellipse cx="543.5" cy="647.5" rx="11.5" ry="13.0" transform="rotate(30 543.5 647.5)" fill="none" stroke="#e5001e" stroke-width="2.0"/>
<path d="M798.6,744.8 C800.7,743.1 803.0,741.5 805.5,741.4 C808.0,741.2 811.7,742.2 813.7,744.1 C815.8,746.1 816.7,750.0 817.9,753.1 C819.0,756.2 818.3,759.0 820.6,762.7 C822.9,766.4 828.0,771.7 831.7,775.1 C835.3,778.6 838.6,780.6 842.7,783.4 C846.8,786.1 852.8,788.7 856.5,791.7 C860.1,794.6 862.2,798.1 864.7,801.3 C867.3,804.5 869.8,807.1 871.6,811.0 C873.5,814.9 873.7,819.7 875.8,824.7 C877.8,829.8 881.0,836.7 884.0,841.3 C887.0,845.9 891.5,848.9 893.7,852.3 C895.9,855.7 897.4,859.2 897.1,861.9 C896.9,864.7 894.9,867.9 892.3,868.8 C889.7,869.8 885.9,869.3 881.3,867.5 C876.7,865.6 870.0,861.3 864.7,857.8 C859.5,854.4 854.2,851.4 849.6,846.8 C845.0,842.2 840.6,834.8 837.2,830.2 C833.7,825.7 831.0,822.9 828.9,819.2 C826.8,815.5 827.1,811.4 824.8,808.2 C822.5,805.0 818.8,802.5 815.1,799.9 C811.4,797.4 806.2,795.8 802.7,793.0 C799.3,790.3 796.5,786.8 794.5,783.4 C792.4,779.9 791.2,776.3 790.3,772.4 C789.4,768.5 788.5,763.4 788.9,760.0 C789.4,756.5 791.5,754.2 793.1,751.7 C794.7,749.2 796.5,746.5 798.6,744.8Z" fill="none" stroke="#e5001e" stroke-width="2.3" stroke-linejoin="round" />
<path d="M546.0,640.5 C546.1,639.5 548.9,638.6 550.3,637.9 C551.7,637.2 553.0,636.8 554.6,636.2 C556.2,635.5 558.2,634.5 559.8,634.0 C561.3,633.6 563.1,633.1 564.1,633.6 C565.1,634.1 565.9,635.9 565.8,637.0 C565.7,638.2 564.4,639.5 563.2,640.5 C562.1,641.5 560.5,642.3 558.9,643.1 C557.3,643.8 555.3,644.6 553.7,644.8 C552.2,644.9 550.7,644.6 549.4,643.9 C548.1,643.2 545.8,641.5 546.0,640.5Z" fill="none" stroke="#0680c2" stroke-width="2.0" stroke-linejoin="round" />
<ellipse cx="684.5" cy="405.0" rx="2.6" ry="1.6" transform="rotate(-20 684.5 405.0)" fill="#000" stroke="#000" stroke-width="1.5"/>
<path d="M714.8,655.8 L571.2,511.6 L576.3,506.5 L551.4,500.3 L557.5,525.3 L562.6,520.2 L706.2,664.4Z" fill="rgba(255,165,0,0.75)"/>
<path d="M731.5,695.8 L875.2,840.0 L870.1,845.1 L895.1,851.3 L889.0,826.3 L883.9,831.4 L740.1,687.2Z" fill="rgba(255,165,0,0.75)"/>
<path d="M549.2,645.1 L563.8,631.8 L568.8,637.3 L574.8,614.2 L551.3,618.1 L556.3,623.6 L541.8,636.9Z" fill="rgba(204,0,214,0.75)"/>
<path d="M531.5,659.3 L518.6,670.0 L513.8,664.2 L506.8,687.0 L530.5,684.2 L525.7,678.4 L538.5,667.7Z" fill="rgba(204,0,214,0.75)"/>
<path d="M579.1,290.0 H603.1 M591.1,278.0 V302.0" stroke="#00ffff" stroke-width="4.8"/>
<path d="M739.6,501.6 H763.6 M751.6,489.6 V513.6" stroke="#00ffff" stroke-width="4.8"/>
<path d="M779.0,510.0 H803.0 M791.0,498.0 V522.0" stroke="#00ffff" stroke-width="4.8"/>
<path d="M759.7,525.1 H783.7 M771.7,513.1 V537.1" stroke="#00ffff" stroke-width="4.8"/>
<path d="M763.1,582.3 H787.1 M775.1,570.3 V594.3" stroke="#00ffff" stroke-width="4.8"/>
<path d="M891.1,646.2 H915.1 M903.1,634.2 V658.2" stroke="#00ffff" stroke-width="4.8"/>
<path d="M711.1,678.2 H735.1 M723.1,666.2 V690.2" stroke="#00ffff" stroke-width="4.8"/>
<path d="M531.5,650.5 H555.5 M543.5,638.5 V662.5" stroke="#00ffff" stroke-width="4.8"/>
<path d="M727.1,806.4 H751.1 M739.1,794.4 V818.4" stroke="#00ffff" stroke-width="4.8"/>
<path d="M745.9,483.4 L646.8,350.1 L652.6,345.8 L628.8,336.1 L631.3,361.7 L637.0,357.4 L736.1,490.6Z" fill="rgba(60,40,255,0.85)"/>
<path d="M759.0,522.4 L857.3,665.9 L851.4,670.0 L874.8,680.6 L873.3,654.9 L867.4,659.0 L769.0,515.6Z" fill="rgba(60,40,255,0.85)"/>
<path d="M767.0,555.5 L666.8,555.5 L666.8,547.9 L645.6,561.2 L666.8,574.6 L666.8,566.9 L767.0,566.9Z" fill="rgba(20,160,40,0.85)"/>
<path d="M645.6,561.2 H767 V567.1 H654.6 Z" fill="rgba(0,130,30,0.45)"/>
<path d="M835.0,567.0 L935.3,567.0 L935.3,574.7 L956.3,561.2 L935.3,547.7 L935.3,555.4 L835.0,555.4Z" fill="rgba(20,160,40,0.85)"/>
<path d="M786.1,551.3 H819.9 V566.5 H786.1 Z M796.5,541 H810.3 V574.7 H796.5 Z" fill="#008000"/>
<rect x="281.1" y="103.6" width="866.9" height="944.8" fill="none" stroke="#000" stroke-width="4.2"/>
<path d="M359.2,1048.4 V1039.0 M359.2,103.6 V113.0" stroke="#000" stroke-width="3"/>
<path d="M526.1,1048.4 V1039.0 M526.1,103.6 V113.0" stroke="#000" stroke-width="3"/>
<path d="M693.0,1048.4 V1039.0 M693.0,103.6 V113.0" stroke="#000" stroke-width="3"/>
<path d="M859.9,1048.4 V1039.0 M859.9,103.6 V113.0" stroke="#000" stroke-width="3"/>
<path d="M1026.8,1048.4 V1039.0 M1026.8,103.6 V113.0" stroke="#000" stroke-width="3"/>
<path d="M281.1,281.7 H290.5 M1148.0,281.7 H1138.6" stroke="#000" stroke-width="3"/>
<path d="M281.1,504.3 H290.5 M1148.0,504.3 H1138.6" stroke="#000" stroke-width="3"/>
<path d="M281.1,726.5 H290.5 M1148.0,726.5 H1138.6" stroke="#000" stroke-width="3"/>
<path d="M281.1,948.8 H290.5 M1148.0,948.8 H1138.6" stroke="#000" stroke-width="3"/>
<rect x="1211.2" y="103.6" width="47.1" height="944.8" fill="url(#cb)" stroke="#000" stroke-width="4.2"/>
<text x="1273.10" y="1064.30" font-size="45.50" fill="#000" textLength="62.40" lengthAdjust="spacingAndGlyphs" >0.0</text>
<path d="M1258.3,917.2 H1248.8999999999999" stroke="#000" stroke-width="3"/>
<text x="1273.10" y="933.05" font-size="45.50" fill="#000" textLength="62.45" lengthAdjust="spacingAndGlyphs" >0.5</text>
<path d="M1258.3,785.9 H1248.8999999999999" stroke="#000" stroke-width="3"/>
<text x="1270.42" y="801.80" font-size="45.50" fill="#000" textLength="65.17" lengthAdjust="spacingAndGlyphs" >1.0</text>
<path d="M1258.3,654.7 H1248.8999999999999" stroke="#000" stroke-width="3"/>
<text x="1270.41" y="670.55" font-size="45.50" fill="#000" textLength="65.22" lengthAdjust="spacingAndGlyphs" >1.5</text>
<path d="M1258.3,523.4 H1248.8999999999999" stroke="#000" stroke-width="3"/>
<text x="1272.80" y="539.30" font-size="45.50" fill="#000" textLength="62.72" lengthAdjust="spacingAndGlyphs" >2.0</text>
<path d="M1258.3,392.2 H1248.8999999999999" stroke="#000" stroke-width="3"/>
<text x="1272.79" y="408.05" font-size="45.50" fill="#000" textLength="62.77" lengthAdjust="spacingAndGlyphs" >2.5</text>
<path d="M1258.3,260.9 H1248.8999999999999" stroke="#000" stroke-width="3"/>
<text x="1272.59" y="276.80" font-size="45.50" fill="#000" textLength="62.93" lengthAdjust="spacingAndGlyphs" >3.0</text>
<path d="M1258.3,129.7 H1248.8999999999999" stroke="#000" stroke-width="3"/>
<text x="1272.59" y="145.55" font-size="45.50" fill="#000" textLength="62.98" lengthAdjust="spacingAndGlyphs" >3.5</text>
<text x="90.57" y="293.90" font-size="45.50" fill="#000" textLength="175.65" lengthAdjust="spacingAndGlyphs" >1°33'40"</text>
<text x="197.56" y="516.60" font-size="45.50" fill="#000" textLength="68.67" lengthAdjust="spacingAndGlyphs" >20"</text>
<text x="197.85" y="738.80" font-size="45.50" fill="#000" textLength="68.36" lengthAdjust="spacingAndGlyphs" >00"</text>
<text x="135.99" y="961.20" font-size="45.50" fill="#000" textLength="130.33" lengthAdjust="spacingAndGlyphs" >32'40"</text>
<text x="251.24" y="1092.70" font-size="45.50" fill="#000" textLength="50.80" lengthAdjust="spacingAndGlyphs" >18</text>
<text x="302.97" y="1078.70" font-size="31.00" fill="#000" textLength="16.87" lengthAdjust="spacingAndGlyphs" >h</text>
<text x="321.18" y="1092.70" font-size="45.50" fill="#000" textLength="50.29" lengthAdjust="spacingAndGlyphs" >55</text>
<text x="372.81" y="1078.70" font-size="31.00" fill="#000" textLength="25.40" lengthAdjust="spacingAndGlyphs" >m</text>
<text x="400.13" y="1092.70" font-size="45.50" fill="#000" textLength="49.71" lengthAdjust="spacingAndGlyphs" >12</text>
<text x="449.92" y="1078.70" font-size="31.00" fill="#000" textLength="14.97" lengthAdjust="spacingAndGlyphs" >s</text>
<text x="491.60" y="1092.70" font-size="45.50" fill="#000" textLength="48.94" lengthAdjust="spacingAndGlyphs" >11</text>
<text x="542.51" y="1078.70" font-size="31.00" fill="#000" textLength="15.09" lengthAdjust="spacingAndGlyphs" >s</text>
<text x="658.61" y="1092.70" font-size="45.50" fill="#000" textLength="47.71" lengthAdjust="spacingAndGlyphs" >10</text>
<text x="709.41" y="1078.70" font-size="31.00" fill="#000" textLength="15.09" lengthAdjust="spacingAndGlyphs" >s</text>
<text x="827.98" y="1092.70" font-size="45.50" fill="#000" textLength="45.28" lengthAdjust="spacingAndGlyphs" >09</text>
<text x="876.31" y="1078.70" font-size="31.00" fill="#000" textLength="15.09" lengthAdjust="spacingAndGlyphs" >s</text>
<text x="994.88" y="1092.70" font-size="45.50" fill="#000" textLength="45.14" lengthAdjust="spacingAndGlyphs" >08</text>
<text x="1043.21" y="1078.70" font-size="31.00" fill="#000" textLength="15.09" lengthAdjust="spacingAndGlyphs" >s</text>
<text x="615.77" y="1146.70" font-size="39.00" fill="#000" textLength="196.65" lengthAdjust="spacingAndGlyphs" >R.A. (ICRS)</text>
<text x="65.33" y="676.00" font-size="38.00" fill="#000" textLength="203.46" lengthAdjust="spacingAndGlyphs" transform="rotate(-90 66.5 676.0)" >Dec. (ICRS)</text>
<text x="1382.08" y="696.60" font-size="46.00" fill="#000" textLength="198.18" lengthAdjust="spacingAndGlyphs" transform="rotate(-90 1383.1 696.6)" >mJy beam</text>
<text x="1365.60" y="496.40" font-size="31.00" fill="#000" textLength="40.59" lengthAdjust="spacingAndGlyphs" transform="rotate(-90 1367.5 496.4)" >−1</text>
<text x="834.81" y="192.80" font-size="39.50" fill="#0683c4" textLength="215.13" lengthAdjust="spacingAndGlyphs" >55 - 71 km/s</text>
<text x="835.68" y="238.10" font-size="39.50" fill="#e5001e" textLength="214.26" lengthAdjust="spacingAndGlyphs" >85 - 92 km/s</text>
<text x="978.81" y="572.70" font-size="39.50" fill="#008c00" textLength="161.03" lengthAdjust="spacingAndGlyphs" >Outflow I</text>
<text x="781.32" y="719.50" font-size="39.50" fill="#2200ff" textLength="174.43" lengthAdjust="spacingAndGlyphs" >Outflow II</text>
<text x="447.62" y="759.70" font-size="39.50" fill="#d200c8" textLength="187.52" lengthAdjust="spacingAndGlyphs" >Outflow III</text>
<text x="769.95" y="893.00" font-size="39.50" fill="#ffa500" textLength="186.40" lengthAdjust="spacingAndGlyphs" >Outflow IV</text>
<text x="703.68" y="528.00" font-size="45.50" fill="#000" textLength="24.07" lengthAdjust="spacingAndGlyphs" >2</text>
<text x="814.78" y="537.20" font-size="45.50" fill="#000" textLength="21.73" lengthAdjust="spacingAndGlyphs" >1</text>
<text x="510.18" y="645.60" font-size="45.50" fill="#000" textLength="23.66" lengthAdjust="spacingAndGlyphs" >4</text>
<text x="685.09" y="719.50" font-size="45.50" fill="#000" textLength="50.23" lengthAdjust="spacingAndGlyphs" >10</text>
<text x="976.44" y="1014.70" font-size="43.00" fill="#000" textLength="162.83" lengthAdjust="spacingAndGlyphs" >5000 au</text>
<rect x="1055.8" y="961" width="17.1" height="5.8" fill="#000"/>
<rect x="309.5" y="979.3" width="31.3" height="22.7" fill="none" stroke="#000" stroke-width="2.5"/>
<ellipse cx="325.2" cy="990.5" rx="9.3" ry="6.6" transform="rotate(-33 325.2 990.5)" fill="#000"/>
</svg></body></html>
